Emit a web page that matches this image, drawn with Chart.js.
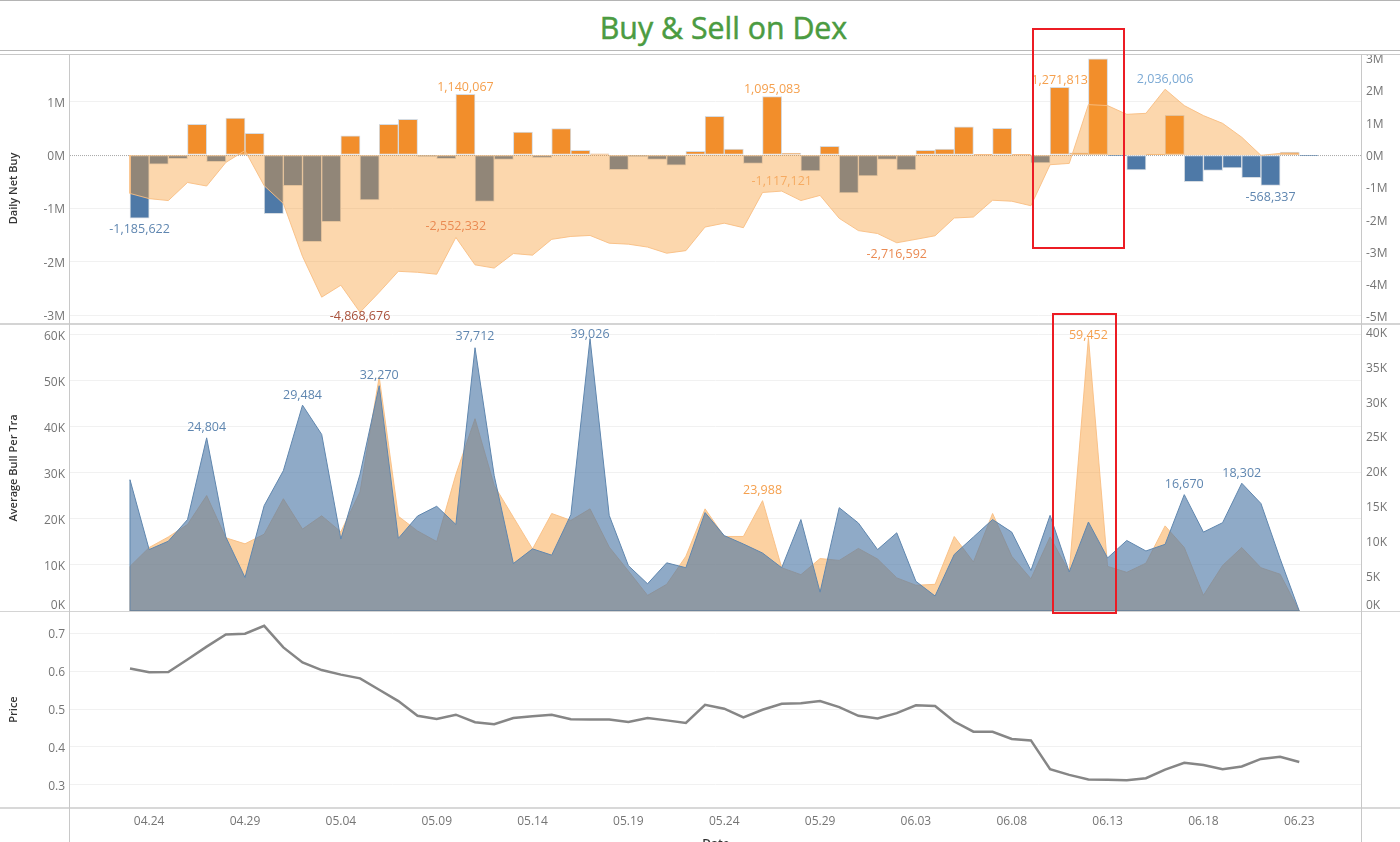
<!DOCTYPE html>
<html>
<head>
<meta charset="utf-8">
<title>Buy & Sell on Dex</title>
<script src="https://cdn.jsdelivr.net/npm/chart.js@4"></script>
<style>
  html, body { margin: 0; padding: 0; background: #fff; }
  body { position: relative; width: 1400px; height: 842px; overflow: hidden; font-family: 'Open Sans', sans-serif; }
  canvas { position: absolute; left: 0; }
  #title { position: absolute; left: 0; width: 1447px; top: 7px; text-align: center; font-size: 30.3px; font-weight: 500; color: #4b9b41; -webkit-text-stroke: 0.5px #4b9b41; }
  .hr { position: absolute; left: 0; width: 1400px; height: 1px; background: #c8c8c8; }
  .vr { position: absolute; top: 54px; height: 788px; width: 1px; background: #c8c8c8; }
  .box { position: absolute; border: 2px solid #ec1c24; box-sizing: border-box; }
  #dateTitle { position: absolute; left: 686px; top: 835px; width: 60px; text-align: center; font-size: 12px; font-weight: 600; color: #333; }
</style>
</head>
<body>
<div id="title">Buy &amp; Sell on Dex</div>
<canvas id="netChart" width="1400" height="269" style="top:54px"></canvas>
<canvas id="avgChart" width="1400" height="286" style="top:325px"></canvas>
<canvas id="priceChart" width="1400" height="230" style="top:612px"></canvas>
<div class="hr" style="top:0;background:#b4b4b4"></div>
<div class="hr" style="top:50px;background:#b8b8b8"></div>
<div class="hr" style="top:54px"></div>
<div class="hr" style="top:323px;height:2px;background:#d4d4d4"></div>
<div class="hr" style="top:611px;background:#d4d4d4"></div>
<div class="hr" style="top:807px;height:2px;background:#d8d8d8"></div>
<div class="vr" style="left:69px"></div>
<div class="vr" style="left:1361px"></div>
<div class="box" style="left:1032px;top:28px;width:93px;height:221px"></div>
<div class="box" style="left:1052px;top:313px;width:65px;height:301px"></div>
<div id="dateTitle">Date</div>

<script>
const dates = ['04.23','04.24','04.25','04.26','04.27','04.28','04.29','04.30','05.01','05.02','05.03','05.04','05.05','05.06','05.07','05.08','05.09','05.10','05.11','05.12','05.13','05.14','05.15','05.16','05.17','05.18','05.19','05.20','05.21','05.22','05.23','05.24','05.25','05.26','05.27','05.28','05.29','05.30','05.31','06.01','06.02','06.03','06.04','06.05','06.06','06.07','06.08','06.09','06.10','06.11','06.12','06.13','06.14','06.15','06.16','06.17','06.18','06.19','06.20','06.21','06.22','06.23'];
const dateTicks = ['04.24','04.29','05.04','05.09','05.14','05.19','05.24','05.29','06.03','06.08','06.13','06.18','06.23'];

// millions
const dailyNetBuy = [-1.186,-0.17,-0.07,0.575,-0.125,0.694,0.406,-1.10,-0.575,-1.625,-1.25,0.36,-0.844,0.575,0.67,-0.025,-0.07,1.14,-0.87,-0.08,0.43,-0.05,0.494,0.088,0.025,-0.275,-0.025,-0.08,-0.19,0.07,0.725,0.113,-0.156,1.095,0.035,-0.30,0.163,-0.71,-0.39,-0.08,-0.28,0.088,0.113,0.53,0.015,0.50,0.005,-0.15,1.272,0.04,1.806,-0.01,-0.28,0.02,0.744,-0.50,-0.29,-0.24,-0.425,-0.568,0.056,-0.01];
const cumulativeNet = [-1.19,-1.35,-1.41,-0.85,-0.96,-0.23,0.14,-0.95,-1.50,-3.14,-4.40,-4.03,-4.869,-4.25,-3.60,-3.63,-3.69,-2.552,-3.40,-3.50,-3.05,-3.10,-2.61,-2.52,-2.49,-2.73,-2.76,-2.85,-3.04,-2.96,-2.23,-2.11,-2.25,-1.16,-1.117,-1.41,-1.25,-1.96,-2.34,-2.43,-2.717,-2.61,-2.50,-1.95,-1.92,-1.40,-1.43,-1.57,-0.30,-0.26,1.56,1.53,1.26,1.29,2.036,1.53,1.22,0.98,0.55,-0.01,0.05,0.03];

// thousands
const avgBull = [9.7,13.8,16.1,18.8,25.1,15.9,14.6,16.7,24.4,17.8,20.7,17.2,25.9,50.9,20.6,17.4,15.1,29.7,41.8,27.3,20.4,13.5,21.2,19.7,22.2,13.9,8.7,3.4,5.8,11.9,22.2,16.2,16.2,23.988,9.4,7.9,11.4,11.0,13.6,11.3,7.2,5.6,5.8,16.2,10.65,21.2,11.9,7.0,16.1,8.5,59.452,9.7,8.4,10.4,18.5,13.8,3.4,9.9,13.8,9.4,8.0,0];
const avgBear = [18.8,8.8,10.0,13.1,24.804,10.6,4.8,15.1,20.1,29.484,25.3,10.3,19.6,32.27,10.4,13.6,15.0,12.4,37.712,19.4,6.8,8.9,8.0,13.8,39.026,13.7,6.5,3.9,6.9,6.2,14.1,10.8,9.6,8.3,6.2,13.1,2.7,14.8,12.6,8.8,11.2,4.25,2.15,8.1,10.6,13.1,11.3,5.8,13.7,5.6,12.75,7.6,10.1,8.6,9.55,16.67,11.3,12.65,18.302,15.4,7.5,0];

const price = [0.607,0.597,0.598,0.631,0.665,0.697,0.699,0.72,0.663,0.623,0.603,0.591,0.581,0.551,0.521,0.482,0.474,0.485,0.465,0.46,0.476,0.481,0.485,0.473,0.472,0.472,0.466,0.476,0.47,0.463,0.511,0.501,0.478,0.498,0.514,0.515,0.521,0.505,0.482,0.475,0.489,0.51,0.508,0.467,0.44,0.44,0.421,0.417,0.341,0.326,0.314,0.313,0.312,0.317,0.34,0.358,0.352,0.341,0.348,0.368,0.374,0.36];

const netLeftTicks = [-3,-2,-1,0,1];
const netRightTicks = [-5,-4,-3,-2,-1,0,1,2,3];
const bullTicks = [0,10,20,30,40,50,60];
const bearTicks = [0,5,10,15,20,25,30,35,40];
const priceTicks = [0.3,0.4,0.5,0.6,0.7];

// [day index, label]
const netBuyCallouts = [[0,'-1,185,622'],[17,'1,140,067'],[33,'1,095,083'],[48,'1,271,813'],[59,'-568,337']];
const cumulativeCallouts = [[12,'-4,868,676'],[17,'-2,552,332'],[34,'-1,117,121'],[40,'-2,716,592'],[54,'2,036,006']];
const bullCallouts = [[33,'23,988'],[50,'59,452']];
const bearCallouts = [[4,'24,804'],[9,'29,484'],[13,'32,270'],[18,'37,712'],[24,'39,026'],[55,'16,670'],[58,'18,302']];

const FONT = "'Open Sans', sans-serif";
const BLUE = '#4e79a7';
const ORANGE = '#f28e2b';
const TICK = '#757575';
const GRID = '#f1f1f1';

// colour and vertical shift for each callout, keyed by its text
const calloutStyle = {
  '-1,185,622': ['#5f86b0', 10],
  '1,140,067': ['#f5a04e', -8],
  '1,095,083': ['#f5a04e', -8],
  '1,271,813': ['#f5a04e', -8],
  '-568,337': ['#5f86b0', 11],
  '-4,868,676': ['#a9523c', 3],
  '-2,552,332': ['#ea8a52', -12],
  '-1,117,121': ['#f6ab62', -11],
  '-2,716,592': ['#ea8a52', 11],
  '2,036,006': ['#7ba9d4', -11],
  '23,988': ['#f5a04e', -11],
  '59,452': ['#f5a04e', -3],
  '39,026': ['#5f86b0', -5],
  '37,712': ['#5f86b0', -12]
};

function points(values, shift = 0) {
  return values.map((y, i) => ({ x: i + shift, y }));
}

// closes the area down to the axis at the first day so the outline has its left edge
function areaPoints(values) {
  return [{ x: 0, y: 0 }].concat(points(values));
}

function xScale(show) {
  return {
    type: 'linear',
    display: show,
    min: -3.13,
    max: 64.22,
    offset: false,
    grid: { display: false, offset: false, drawTicks: false },
    border: { display: false },
    afterBuildTicks: scale => { scale.ticks = dateTicks.map(d => ({ value: dates.indexOf(d) })); },
    afterFit: scale => {
      scale.height = show ? 35 : 0;
      scale.paddingLeft = 0;
      scale.paddingRight = 0;
    },
    ticks: {
      autoSkip: false,
      maxRotation: 0,
      padding: 7,
      color: TICK,
      font: { family: FONT, size: 12 },
      callback: v => dates[v]
    }
  };
}

function yScale(opts) {
  const scale = {
    position: opts.position,
    min: opts.min,
    max: opts.max,
    afterBuildTicks: s => { s.ticks = opts.ticks.map(value => ({ value })); },
    afterFit: s => {
      s.width = opts.position === 'left' ? 70 : 39;
      s.paddingTop = 0;
      s.paddingBottom = 0;
    },
    grid: { display: opts.position === 'left', color: ctx => (ctx.tick.value === 0 ? 'transparent' : GRID), drawTicks: false, lineWidth: 1 },
    border: { display: false },
    ticks: {
      padding: 5,
      labelOffset: 1.5,
      color: TICK,
      font: { family: FONT, size: 12 },
      autoSkip: false,
      callback: opts.format
    }
  };
  if (opts.title) {
    scale.title = {
      display: true,
      text: opts.title,
      color: '#333',
      font: { family: FONT, size: 11, weight: '600' },
      padding: { top: 7, bottom: 0 }
    };
  }
  return scale;
}

// draws value callouts above / below the marks, through the chart's own scales
function calloutPlugin(groups) {
  return {
    id: 'callouts',
    afterDatasetsDraw(chart) {
      const c = chart.ctx;
      c.save();
      c.font = '12.5px ' + FONT;
      c.textAlign = 'center';
      c.textBaseline = 'middle';
      groups.forEach(g => {
        g.list.forEach(([day, text]) => {
          const style = calloutStyle[text] || [g.color, -11];
          c.fillStyle = style[0];
          const x = chart.scales.x.getPixelForValue(day + (g.shift || 0));
          const y = chart.scales[g.axis].getPixelForValue(g.values[day]);
          c.fillText(text, x, y + style[1] + 1);
        });
      });
      c.restore();
    }
  };
}

const zeroLine = {
  id: 'zeroLine',
  beforeDatasetsDraw(chart) {
    const c = chart.ctx;
    const y = chart.scales.y.getPixelForValue(0);
    c.save();
    c.strokeStyle = '#a8a8a8';
    c.setLineDash([1, 1]);
    c.lineWidth = 1;
    c.beginPath();
    c.moveTo(chart.chartArea.left, y + 0.5);
    c.lineTo(chart.chartArea.right, y + 0.5);
    c.stroke();
    c.restore();
  }
};

const baseOptions = {
  responsive: false,
  animation: false,
  events: [],
  plugins: { legend: { display: false }, tooltip: { enabled: false } }
};

new Chart(document.getElementById('netChart'), {
  type: 'bar',
  data: {
    datasets: [
      {
        type: 'line',
        yAxisID: 'y2',
        order: 1,
        data: areaPoints(cumulativeNet),
        fill: 'origin',
        tension: 0,
        pointRadius: 0,
        borderWidth: 1,
        borderColor: 'rgba(248,190,130,0.9)',
        backgroundColor: 'rgba(248,155,50,0.4)'
      },
      {
        yAxisID: 'y',
        order: 2,
        data: points(dailyNetBuy, 0.5),
        backgroundColor: dailyNetBuy.map(v => (v >= 0 ? ORANGE : BLUE)),
        borderColor: '#d6dce2',
        borderWidth: 1,
        borderSkipped: false,
        barPercentage: 1,
        categoryPercentage: 1
      }
    ]
  },
  options: {
    ...baseOptions,
    scales: {
      x: xScale(false),
      y: yScale({ position: 'left', min: -3.15, max: 1.895, ticks: netLeftTicks, title: 'Daily Net Buy', format: v => v + 'M' }),
      y2: yScale({ position: 'right', min: -5.2, max: 3.127, ticks: netRightTicks, format: v => v + 'M' })
    }
  },
  plugins: [zeroLine, calloutPlugin([
    { list: netBuyCallouts, values: dailyNetBuy, axis: 'y', shift: 0.5 },
    { list: cumulativeCallouts, values: cumulativeNet, axis: 'y2' }
  ])]
});

// the bottom label is lifted half a line so it stays clear of the divider
const kFormat = v => (v === 0 ? ['0K', ''] : v + 'K');

new Chart(document.getElementById('avgChart'), {
  type: 'line',
  data: {
    datasets: [
      {
        // the areas' shared floor line
        yAxisID: 'y2',
        order: 0,
        data: [{ x: 0, y: 0 }, { x: dates.length - 1, y: 0 }],
        pointRadius: 0,
        borderWidth: 2,
        borderColor: '#6f8499'
      },
      {
        yAxisID: 'y2',
        order: 1,
        data: areaPoints(avgBear),
        fill: 'origin',
        tension: 0,
        pointRadius: 0,
        borderWidth: 1,
        borderColor: '#5f86ae',
        backgroundColor: 'rgba(78,121,167,0.63)'
      },
      {
        yAxisID: 'y',
        order: 2,
        data: areaPoints(avgBull),
        fill: 'origin',
        tension: 0,
        pointRadius: 0,
        borderWidth: 1,
        borderColor: 'rgba(248,190,130,0.9)',
        backgroundColor: 'rgba(248,155,50,0.46)'
      }
    ]
  },
  options: {
    ...baseOptions,
    scales: {
      x: xScale(false),
      y: yScale({ position: 'left', min: 0, max: 62.17, ticks: bullTicks, title: 'Average Bull Per Tra', format: kFormat }),
      y2: yScale({ position: 'right', min: 0, max: 40.97, ticks: bearTicks, format: kFormat })
    }
  },
  plugins: [calloutPlugin([
    { list: bullCallouts, values: avgBull, axis: 'y', color: '#f5a04e' },
    { list: bearCallouts, values: avgBear, axis: 'y2', color: '#5f86b0' }
  ])]
});

new Chart(document.getElementById('priceChart'), {
  type: 'line',
  data: {
    datasets: [{
      data: points(price),
      tension: 0,
      pointRadius: 0,
      borderWidth: 2.5,
      borderColor: '#868686'
    }]
  },
  options: {
    ...baseOptions,
    layout: { padding: { right: 39 } },
    scales: {
      x: xScale(true),
      y: yScale({ position: 'left', min: 0.241, max: 0.7565, ticks: priceTicks, title: 'Price', format: v => v.toFixed(1) })
    }
  }
});
</script>
</body>
</html>
